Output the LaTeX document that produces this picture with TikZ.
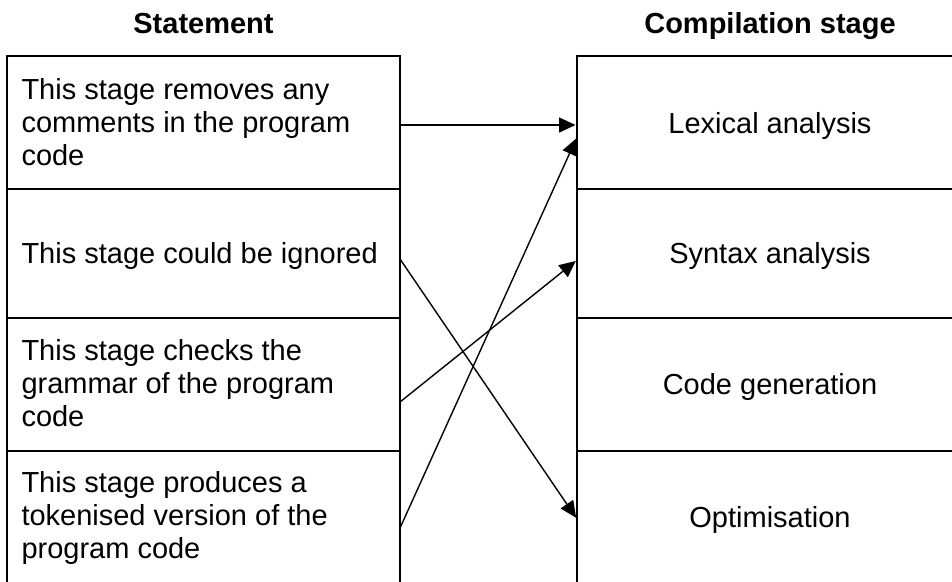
\documentclass[tikz,border=0pt]{standalone}
\usepackage{fontspec}
\setmainfont{Liberation Sans}
\usetikzlibrary{arrows.meta}
\begin{document}
\begin{tikzpicture}[x=1pt,y=-1pt,
  rowbox/.style={draw, line width=2pt, inner sep=0pt, outer sep=0pt, anchor=north west},
  lrow/.style={rowbox, minimum width=393pt},
  rrow/.style={rowbox, minimum width=386pt},
  txt/.style={inner sep=0pt, outer sep=0pt, font=\fontsize{29}{33}\selectfont},
  head/.style={txt, anchor=base, font=\fontsize{29}{33}\selectfont\bfseries},
  arr/.style={line width=1.4pt, shorten >=1.5pt, -{Triangle[length=16.5pt,width=15pt]}}]
\useasboundingbox (0,0) rectangle (952,581);
\clip (0,0) rectangle (952,581);
\fill[white] (0,0) rectangle (952,581);

% headers
\node[head] (hs) at (203.5,33) {Statement};
\node[head] (hc) at (770,33) {Compilation stage};

% left rows
\node[lrow, minimum height=133pt] (L1) at (7,56) {};
\node[lrow, minimum height=129pt] (L2) at (7,189) {};
\node[lrow, minimum height=133pt] (L3) at (7,318) {};
\node[lrow, minimum height=132pt] (L4) at (7,451) {};

% right rows
\node[rrow, minimum height=133pt] (R1) at (577,56) {};
\node[rrow, minimum height=129pt] (R2) at (577,189) {};
\node[rrow, minimum height=133pt] (R3) at (577,318) {};
\node[rrow, minimum height=132pt] (R4) at (577,451) {};

% left texts
\node[txt, anchor=base west] (t1) at (21.5,99) {\parbox[t]{370pt}{\fontsize{29}{33}\selectfont\raggedright This stage removes any\\comments in the program\\code}};
\node[txt, anchor=base west] (t2) at (21.5,263) {This stage could be ignored};
\node[txt, anchor=base west] (t3) at (21.5,360) {\parbox[t]{370pt}{\fontsize{29}{33}\selectfont\raggedright This stage checks the\\grammar of the program\\code}};
\node[txt, anchor=base west] (t4) at (21.5,492) {\parbox[t]{370pt}{\fontsize{29}{33}\selectfont\raggedright This stage produces a\\tokenised version of the\\program code}};

% right texts
\node[txt, anchor=base] (s1) at (770,133) {Lexical analysis};
\node[txt, anchor=base] (s2) at (770,263.5) {Syntax analysis};
\node[txt, anchor=base] (s3) at (770,394.5) {Code generation};
\node[txt, anchor=base] (s4) at (770,527) {Optimisation};

% connectors
\draw[arr] ([yshift=-2.5pt]L1.east) -- ([yshift=-2.5pt]R1.west);
\draw[arr] ([yshift=-5.5pt]L2.east) -- ([yshift=-2pt]R4.west);
\draw[arr] ([yshift=-17.5pt]L3.east) -- ([yshift=-6.5pt]R2.west);
\draw[arr] ([yshift=-11pt]L4.east) -- ([yshift=-14.5pt]R1.west);
\end{tikzpicture}
\end{document}
